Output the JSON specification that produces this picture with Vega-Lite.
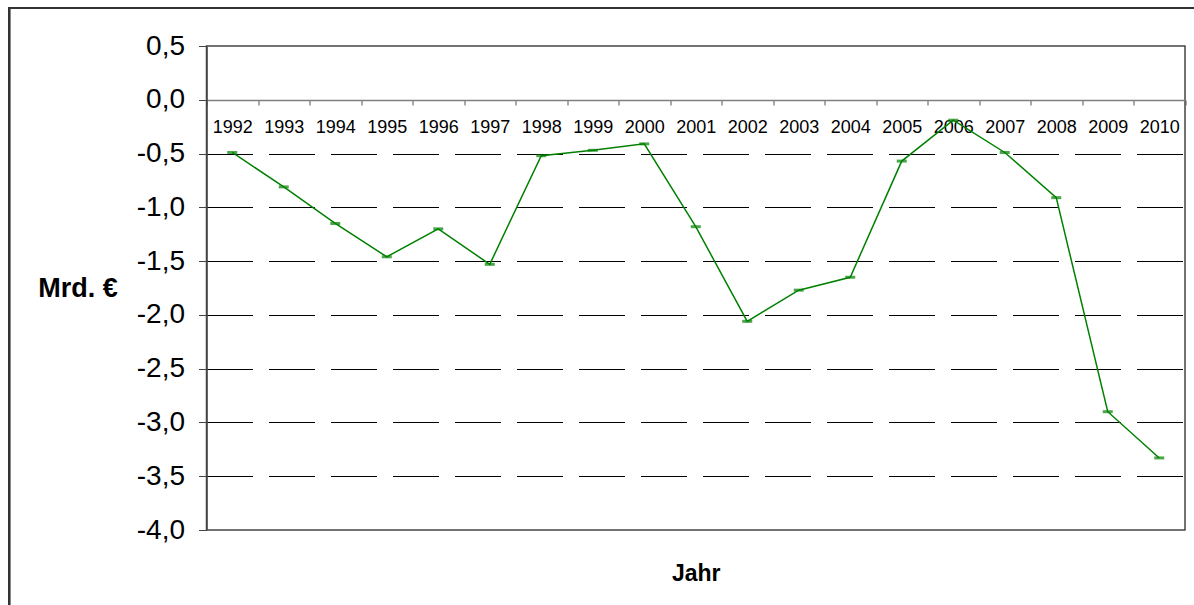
{
  "$schema": "https://vega.github.io/schema/vega-lite/v6.json",
  "width": 978.5,
  "height": 484,
  "autosize": {"type": "none"},
  "padding": {"left": 206.5, "top": 46, "right": 9, "bottom": 75},
  "background": "white",
  "config": {
    "font": "Liberation Sans",
    "view": {"stroke": "#444444", "strokeWidth": 1.5}
  },
  "data": {
    "values": [
      {"year": "1992", "value": -0.49},
      {"year": "1993", "value": -0.81},
      {"year": "1994", "value": -1.15},
      {"year": "1995", "value": -1.46},
      {"year": "1996", "value": -1.20},
      {"year": "1997", "value": -1.53},
      {"year": "1998", "value": -0.52},
      {"year": "1999", "value": -0.47},
      {"year": "2000", "value": -0.41},
      {"year": "2001", "value": -1.18},
      {"year": "2002", "value": -2.06},
      {"year": "2003", "value": -1.77},
      {"year": "2004", "value": -1.65},
      {"year": "2005", "value": -0.57},
      {"year": "2006", "value": -0.19},
      {"year": "2007", "value": -0.49},
      {"year": "2008", "value": -0.91},
      {"year": "2009", "value": -2.90},
      {"year": "2010", "value": -3.33}
    ]
  },
  "layer": [
    {
      "mark": {"type": "rect", "fillOpacity": 0, "stroke": "#333333", "strokeWidth": 2, "clip": false},
      "encoding": {
        "x": {"datum": -0.2018, "type": "quantitative", "scale": {"domain": [0, 1], "nice": false, "zero": false}, "axis": null},
        "x2": {"datum": 1.6},
        "y": {"datum": 0.853, "type": "quantitative"},
        "y2": {"datum": -8}
      }
    },
    {
      "encoding": {
        "x": {
          "field": "year", "type": "ordinal",
          "scale": {"paddingInner": 0, "paddingOuter": 0},
          "axis": {
            "orient": "bottom", "offset": -430, "title": "Jahr",
            "titleFontSize": 23, "titleFontWeight": "bold", "titlePadding": 426, "titleColor": "#000000",
            "labelAngle": 0, "labelFontSize": 18, "labelPadding": 13, "labelColor": "#000000",
            "tickBand": "extent", "tickSize": 5, "tickColor": "#555555",
            "domainColor": "#808080", "domainWidth": 1.5, "grid": false
          }
        },
        "y": {
          "field": "value", "type": "quantitative",
          "scale": {"domain": [-4, 0.5], "nice": false, "zero": false},
          "axis": {
            "values": [0.5, 0, -0.5, -1, -1.5, -2, -2.5, -3, -3.5, -4],
            "labelExpr": "replace(replace(format(datum.value, '.1f'), '.', ','), '\u2212', '-')",
            "labelFontSize": 28, "labelPadding": 14, "labelColor": "#000000",
            "tickSize": 8, "tickColor": "#444444", "domainColor": "#444444", "domainWidth": 1.5,
            "title": "Mrd. €", "titleAngle": 0, "titleAlign": "right", "titleBaseline": "middle",
            "titleFontSize": 27, "titleFontWeight": "bold", "titlePadding": 19, "titleColor": "#000000",
            "grid": true,
            "gridColor": "#000000",
            "gridWidth": 1,
            "gridDash": [46, 16],
            "gridOpacity": {"condition": {"test": "datum.value === 0 || datum.value === 0.5 || datum.value === -4", "value": 0}, "value": 1}
          }
        }
      },
      "layer": [
        {"mark": {"type": "line", "color": "#008000", "strokeWidth": 1.5}},
        {"mark": {"type": "tick", "orient": "horizontal", "color": "#008000", "size": 10, "thickness": 3}}
      ]
    }
  ],
  "resolve": {"scale": {"x": "independent"}}
}
